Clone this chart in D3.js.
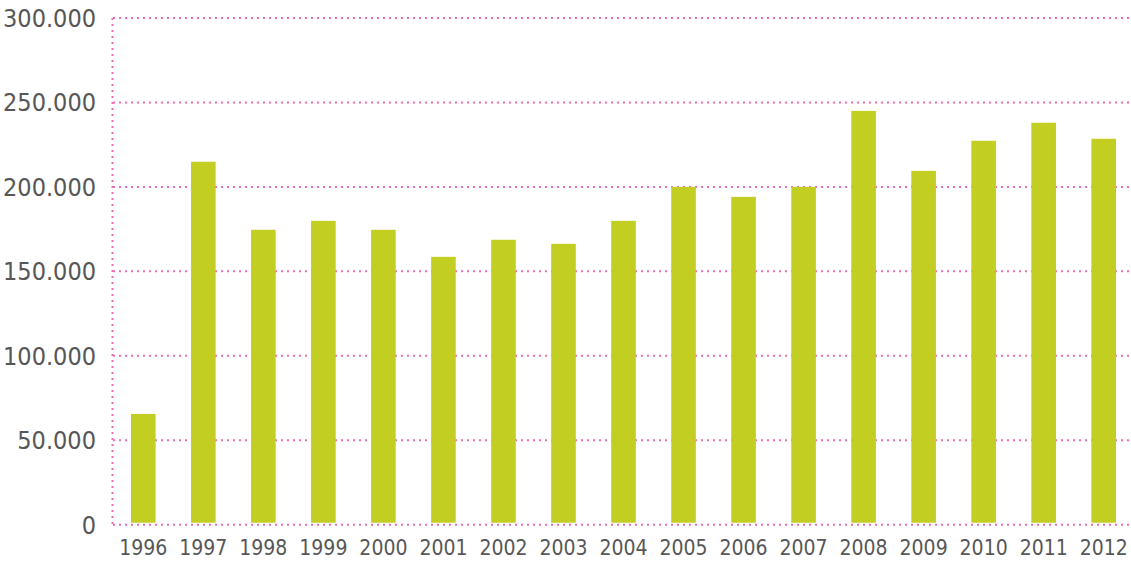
<!DOCTYPE html>
<html>
<head>
<meta charset="utf-8">
<script src="https://cdn.jsdelivr.net/npm/d3@7"></script>
<style>
  body { margin: 0; background: #fff; }
  .chart-d3 text { font-family: "DejaVu Sans Condensed", "DejaVu Sans", sans-serif; font-stretch: condensed; fill: #575757; }
</style>
</head>
<body>
<div id="chart"></div>
<script>
// data
const years = ['1996','1997','1998','1999','2000','2001','2002','2003','2004',
               '2005','2006','2007','2008','2009','2010','2011','2012'];
const values = [65600, 214900, 174600, 179900, 174600, 158600, 168700, 166300, 179900,
                200000, 194100, 200000, 245000, 209500, 227300, 238000, 228500];
const yTicks = [0, 50000, 100000, 150000, 200000, 250000, 300000];

const width = 1131, height = 561;
const margin = {top: 18, right: 0, bottom: 36, left: 113};

const svg = d3.select('#chart').append('svg')
  .attr('class', 'chart-d3')
  .attr('width', width)
  .attr('height', height);

const x = d3.scaleBand()
  .domain(years)
  .range([margin.left, 1134])
  .paddingInner(0.59)
  .paddingOuter(0.3);

const y = d3.scaleLinear()
  .domain([0, 300000])
  .range([height - margin.bottom - 0.3, margin.top]);

const pink = '#ee6cb6';
const fmt = d => d3.format(',')(d).replace(/,/g, '.');

// horizontal grid
svg.append('g').selectAll('line')
  .data(yTicks)
  .enter().append('line')
  .attr('x1', margin.left)
  .attr('x2', width)
  .attr('y1', d => y(d))
  .attr('y2', d => y(d))
  .attr('stroke', pink)
  .attr('stroke-width', 2)
  .attr('stroke-dasharray', '2,4');

// vertical axis line
svg.append('line')
  .attr('x1', margin.left - 0.5)
  .attr('x2', margin.left - 0.5)
  .attr('y1', y(300000))
  .attr('y2', y(0))
  .attr('stroke', pink)
  .attr('stroke-width', 2)
  .attr('stroke-dasharray', '2,4');

// bars
svg.append('g').selectAll('rect')
  .data(values)
  .enter().append('rect')
  .attr('x', (d, i) => x(years[i]))
  .attr('width', x.bandwidth())
  .attr('y', d => y(d))
  .attr('height', d => y(0) - 2 - y(d))
  .attr('fill', '#c3ce22');

// y labels
svg.append('g').selectAll('text')
  .data(yTicks)
  .enter().append('text')
  .attr('x', 96)
  .attr('y', d => y(d))
  .attr('dy', '0.36em')
  .attr('text-anchor', 'end')
  .style('font-size', '25px')
  .text(fmt);

// x labels
svg.append('g').selectAll('text')
  .data(years)
  .enter().append('text')
  .attr('x', d => x(d) + x.bandwidth() / 2)
  .attr('y', 555)
  .attr('text-anchor', 'middle')
  .style('font-size', '21px')
  .text(d => d);
</script>
</body>
</html>
